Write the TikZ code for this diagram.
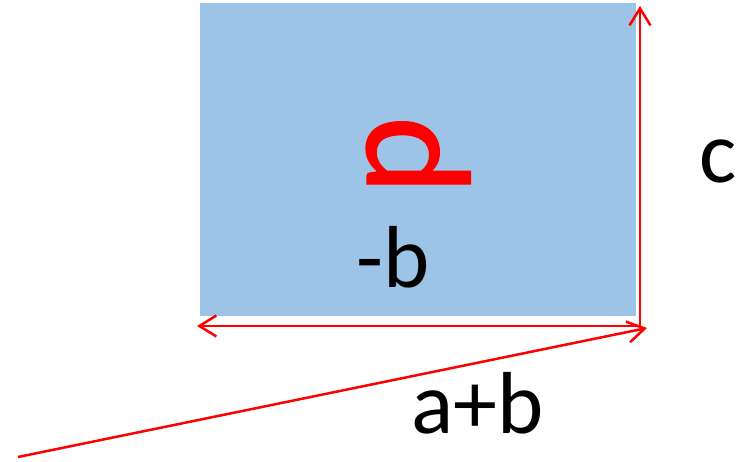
\documentclass[tikz,border=0pt]{standalone}
\usepackage{fontspec}
\setmainfont{Carlito}
\newfontfamily\dfont[FakeBold=0.8]{Carlito}
\usetikzlibrary{arrows.meta}
\definecolor{boxblue}{HTML}{9DC3E6}
\definecolor{vecred}{HTML}{FF0000}
\begin{document}
\begin{tikzpicture}[x=1pt,y=-1pt,
  vec/.style={draw=vecred, line width=2.5pt, -{Straight Barb[length=17pt,width=21pt]}},
  lbl/.style={inner sep=0pt, anchor=base west, font=\fontsize{88}{100}\selectfont, text=black},
  dlbl/.style={inner sep=0pt, anchor=base west, rotate=-90, font=\dfont\fontsize{149}{170}\selectfont, text=vecred}]
\useasboundingbox (0,0) rectangle (747,461);
\fill[boxblue] (200,3) rectangle (636,316);
\coordinate (O) at (640,326);
\coordinate (T) at (640,6);
\coordinate (L) at (197,326);
\coordinate (S) at (18,457);
\coordinate (D) at (647,328);
\draw[vec] (O) -- (T);
\draw[vec] (O) -- (L);
\draw[vec] (S) -- (D);
\node[dlbl] (d) at (367,116) {d};
\node[lbl] (c) at (699,182) {c};
\node[lbl] (mb) at (356.5,287) {-b};
\node[lbl] (ab) at (411,433) {a+b};
\end{tikzpicture}
\end{document}
